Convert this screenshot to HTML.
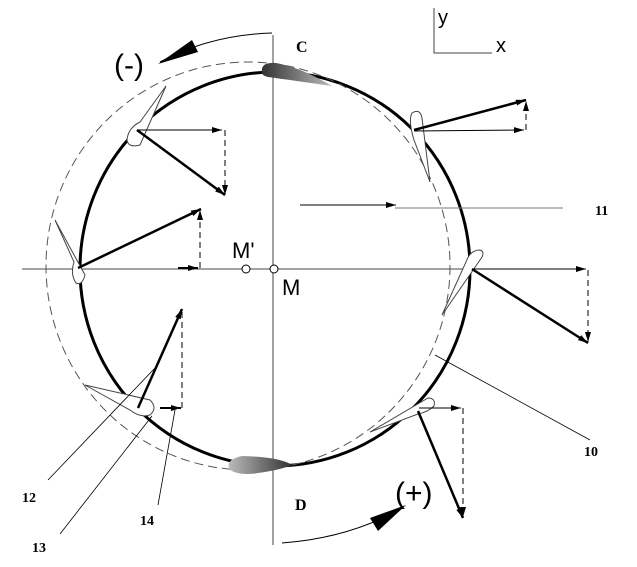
<!DOCTYPE html>
<html><head><meta charset="utf-8"><style>
html,body{margin:0;padding:0;background:#fff;}
svg{display:block;}
text{font-family:"Liberation Serif",serif;font-weight:bold;}
.s{font-family:"Liberation Sans",sans-serif;font-weight:normal;}
</style></head><body>
<svg width="637" height="567" viewBox="0 0 637 567" xmlns="http://www.w3.org/2000/svg">
<defs>
<marker id="a" viewBox="0 0 10 6" refX="10" refY="3" markerWidth="16" markerHeight="6" markerUnits="userSpaceOnUse" orient="auto"><path d="M0,0L10,3L0,6z" fill="#000"/></marker>
<linearGradient id="g" x1="0" x2="1"><stop offset="0" stop-color="#333"/><stop offset="1" stop-color="#bbb"/></linearGradient>
</defs>
<!-- axes -->
<line x1="22" y1="269" x2="585" y2="269" stroke="#444" stroke-width="1"/>
<line x1="273" y1="35" x2="273" y2="545" stroke="#444" stroke-width="1"/>
<!-- circles -->
<ellipse cx="275" cy="269" rx="195" ry="197" fill="none" stroke="#000" stroke-width="3"/>
<ellipse cx="248" cy="266" rx="202" ry="204" fill="none" stroke="#555" stroke-width="1" stroke-dasharray="9,5"/>
<!-- small axes -->
<polyline points="434,8 434,53 492,53" fill="none" stroke="#444"/>
<text x="438" y="24" class="s" font-size="20">y</text>
<text x="496" y="52" class="s" font-size="20">x</text>
<!-- (-) arc -->
<path d="M272,33 Q210,35 160,62" fill="none" stroke="#000"/>
<path d="M158,64 L192,40 L198,52z" fill="#000"/>
<text x="114" y="75" class="s" font-size="30">(-)</text>
<text x="296" y="52" font-size="16">C</text>
<!-- (+) arc -->
<path d="M282,543 Q350,538 402,508" fill="none" stroke="#000"/>
<path d="M406,505 L370,518 L378,531z" fill="#000"/>
<text x="395" y="503" class="s" font-size="30">(+)</text>
<text x="295" y="510" font-size="16">D</text>
<!-- airfoils -->
<path d="M262,70 Q262,62 276,63 Q300,67 332,86 Q290,80 268,77 Q260,75 262,70z" fill="url(#g)"/>
<path d="M228,465 Q240,457 278,456 Q296,460 290,470 Q280,476 262,473 Q240,470 228,465z" fill="url(#g)" transform="scale(-1,1) translate(-520,0)"/>
<path d="M166,86 L140,145 Q128,148 127,140 Q128,128 140,122z" fill="#fff" stroke="#444"/>
<path d="M55,220 L85,275 Q82,286 76,283 Q70,274 74,262z" fill="#fff" stroke="#444"/>
<path d="M412,113 Q420,108 422,118 L430,182 L414,140 Q408,120 412,113z" fill="#fff" stroke="#444"/>
<path d="M480,260 Q486,252 480,250 Q470,250 466,262 L442,315z" fill="#fff" stroke="#444"/>
<path d="M85,385 L150,400 Q158,408 150,415 Q140,418 130,410z" fill="#fff" stroke="#444"/>
<path d="M370,432 L428,398 Q436,398 434,406 Q428,412 418,414z" fill="#fff" stroke="#444"/>
<!-- vectors upper-left -->
<line x1="137" y1="130" x2="222" y2="130" stroke="#000" marker-end="url(#a)"/>
<line x1="225" y1="130" x2="225" y2="195" stroke="#000" stroke-dasharray="6,4" marker-end="url(#a)"/>
<line x1="137" y1="130" x2="225" y2="195" stroke="#000" stroke-width="2.5" marker-end="url(#a)"/>
<!-- left -->
<line x1="78" y1="268" x2="201" y2="209" stroke="#000" stroke-width="2.5" marker-end="url(#a)"/>
<line x1="200" y1="268" x2="200" y2="210" stroke="#000" stroke-dasharray="6,4" marker-end="url(#a)"/>
<line x1="178" y1="268" x2="198" y2="268" stroke="#000" stroke-width="2" marker-end="url(#a)"/>
<!-- M, M' -->
<circle cx="246" cy="269" r="4" fill="#fff" stroke="#000"/>
<circle cx="274" cy="269" r="4" fill="#fff" stroke="#000"/>
<text x="232" y="258" class="s" font-size="22">M'</text>
<text x="282" y="295" class="s" font-size="22">M</text>
<!-- 11 -->
<line x1="300" y1="205" x2="396" y2="205" stroke="#000" marker-end="url(#a)"/>
<line x1="395" y1="208" x2="563" y2="208" stroke="#777"/>
<text x="595" y="215" font-size="14">11</text>
<!-- upper right -->
<line x1="414" y1="130" x2="526" y2="100" stroke="#000" stroke-width="2.5" marker-end="url(#a)"/>
<line x1="414" y1="131" x2="524" y2="130" stroke="#000" marker-end="url(#a)"/>
<line x1="526" y1="130" x2="526" y2="101" stroke="#000" stroke-dasharray="6,4" marker-end="url(#a)"/>
<!-- right -->
<line x1="472" y1="269" x2="586" y2="269" stroke="#000" marker-end="url(#a)"/>
<line x1="588" y1="270" x2="588" y2="342" stroke="#000" stroke-dasharray="6,4" marker-end="url(#a)"/>
<line x1="472" y1="269" x2="588" y2="343" stroke="#000" stroke-width="2.5" marker-end="url(#a)"/>
<!-- lower right -->
<line x1="419" y1="408" x2="461" y2="408" stroke="#000" marker-end="url(#a)"/>
<line x1="463" y1="408" x2="463" y2="517" stroke="#000" stroke-dasharray="6,4" marker-end="url(#a)"/>
<line x1="418" y1="411" x2="463" y2="518" stroke="#000" stroke-width="2.5" marker-end="url(#a)"/>
<!-- lower left -->
<line x1="138" y1="408" x2="182" y2="309" stroke="#000" stroke-width="2.5" marker-end="url(#a)"/>
<line x1="160" y1="408" x2="181" y2="408" stroke="#000" stroke-width="2" marker-end="url(#a)"/>
<line x1="182" y1="408" x2="182" y2="312" stroke="#000" stroke-dasharray="6,4"/>
<!-- leaders -->
<line x1="435" y1="355" x2="590" y2="440" stroke="#000" stroke-width="0.8"/>
<text x="584" y="456" font-size="14">10</text>
<line x1="48" y1="480" x2="155" y2="368" stroke="#000" stroke-width="0.8"/>
<text x="22" y="502" font-size="14">12</text>
<line x1="60" y1="534" x2="152" y2="416" stroke="#000" stroke-width="0.8"/>
<text x="32" y="552" font-size="14">13</text>
<line x1="158" y1="505" x2="175" y2="410" stroke="#000" stroke-width="0.8"/>
<text x="140" y="525" font-size="14">14</text>
</svg>
</body></html>
